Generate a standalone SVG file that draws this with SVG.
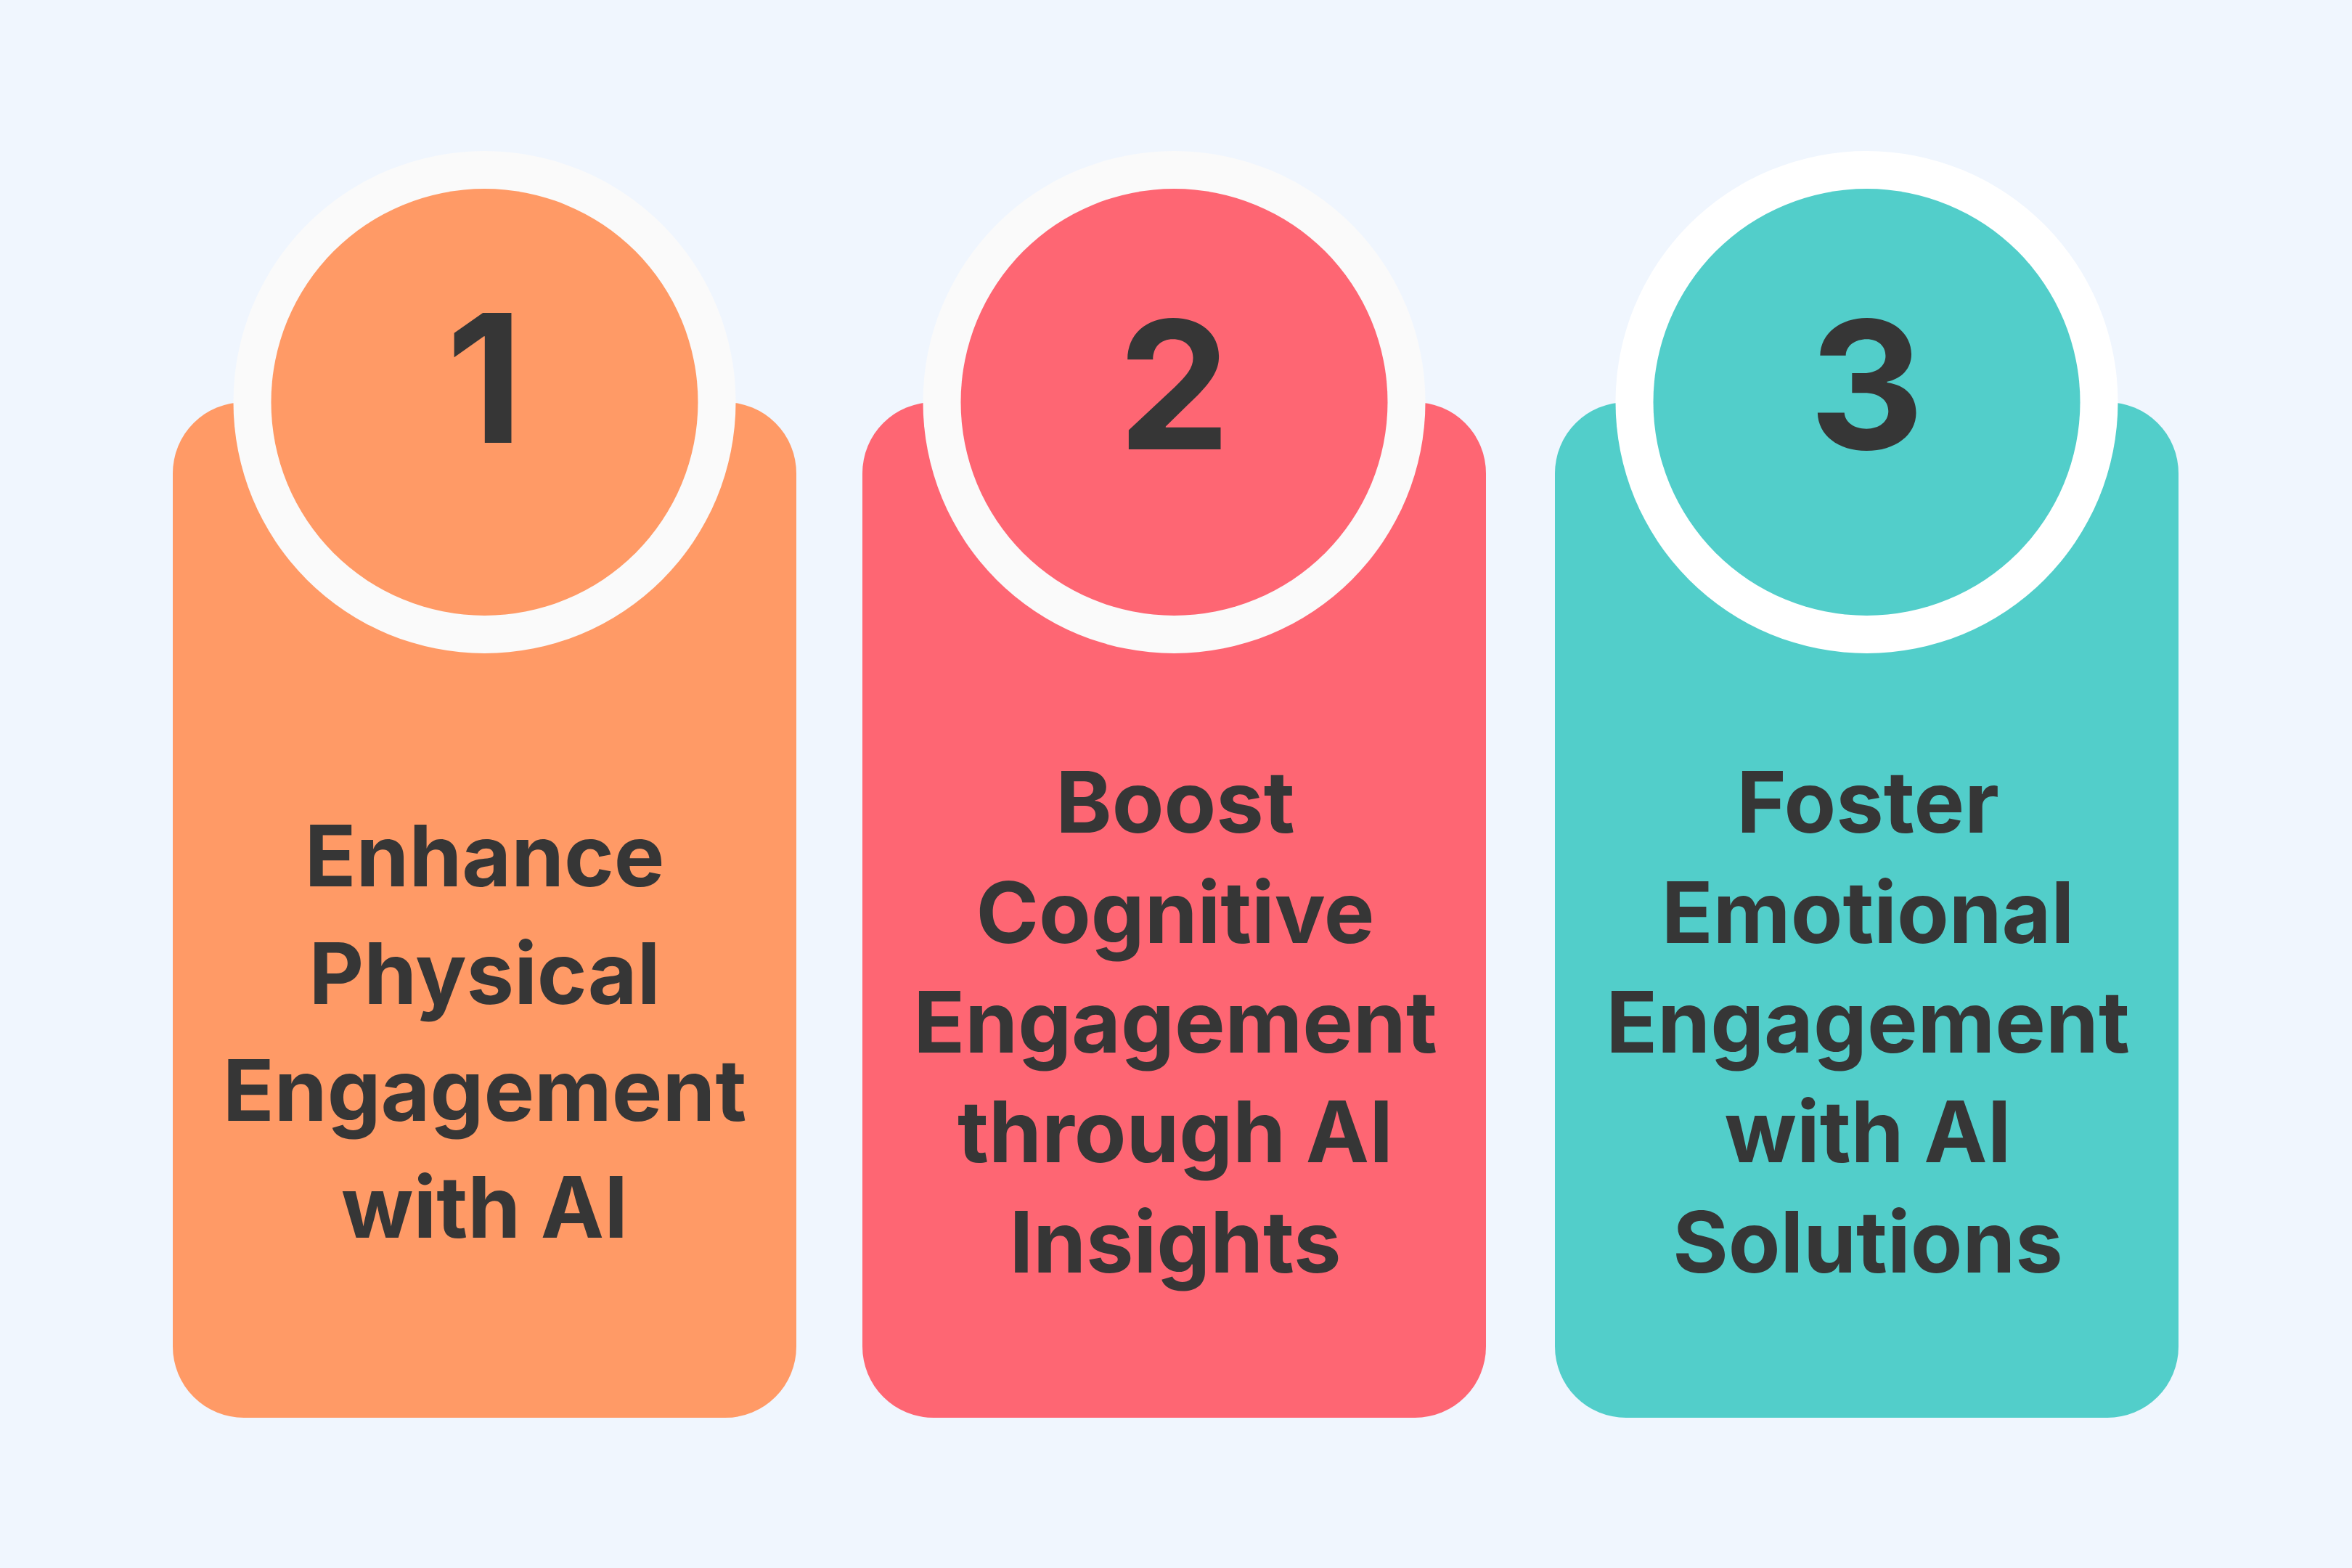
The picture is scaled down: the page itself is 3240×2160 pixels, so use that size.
<svg xmlns="http://www.w3.org/2000/svg" width="3240" height="2160" viewBox="0 0 3240 2160">
  <style>
    .lbl { font-family: Inter, "Noto Sans", "Liberation Sans", sans-serif; font-weight: 700; font-size: 117px; fill: #363636; text-anchor: middle; }
    .num { font-family: Inter, "Noto Sans", "Liberation Sans", sans-serif; font-weight: 700; font-size: 246px; fill: #363636; text-anchor: middle; }
  </style>
  <rect x="0" y="0" width="3240" height="2160" fill="#F0F6FE"/>
  <g id="connectors"></g>
  <g id="node1">
    <rect x="238" y="554" width="859" height="1399" rx="98" ry="98" fill="#FF9A66"/>
    <circle cx="667.5" cy="554" r="346" fill="#FAFAFA"/>
    <circle cx="667.5" cy="554" r="294" fill="#FF9A66"/>
    <text class="num" x="667.5" y="610">1</text>
    <text class="lbl" x="667.5" y="1221">Enhance</text>
    <text class="lbl" x="667.5" y="1382.5">Physical</text>
    <text class="lbl" x="667.5" y="1544">Engagement</text>
    <text class="lbl" x="667.5" y="1705">with AI</text>
  </g>
  <g id="node2">
    <rect x="1188" y="554" width="859" height="1399" rx="98" ry="98" fill="#FE6673"/>
    <circle cx="1617.5" cy="554" r="346" fill="#FAFAFA"/>
    <circle cx="1617.5" cy="554" r="294" fill="#FE6673"/>
    <text class="num" x="1617.5" y="619">2</text>
    <text class="lbl" x="1619" y="1147">Boost</text>
    <text class="lbl" x="1619" y="1299">Cognitive</text>
    <text class="lbl" x="1619" y="1450">Engagement</text>
    <text class="lbl" x="1619" y="1601">through AI</text>
    <text class="lbl" x="1619" y="1753">Insights</text>
  </g>
  <g id="node3">
    <rect x="2142" y="554" width="859" height="1399" rx="98" ry="98" fill="#52CECA"/>
    <circle cx="2571.5" cy="554" r="346" fill="#FFFFFF"/>
    <circle cx="2571.5" cy="554" r="294" fill="#52CECA"/>
    <text class="num" x="2571.5" y="619">3</text>
    <text class="lbl" x="2573" y="1147">Foster</text>
    <text class="lbl" x="2573" y="1299">Emotional</text>
    <text class="lbl" x="2573" y="1450">Engagement</text>
    <text class="lbl" x="2573" y="1601">with AI</text>
    <text class="lbl" x="2573" y="1753">Solutions</text>
  </g>
</svg>
